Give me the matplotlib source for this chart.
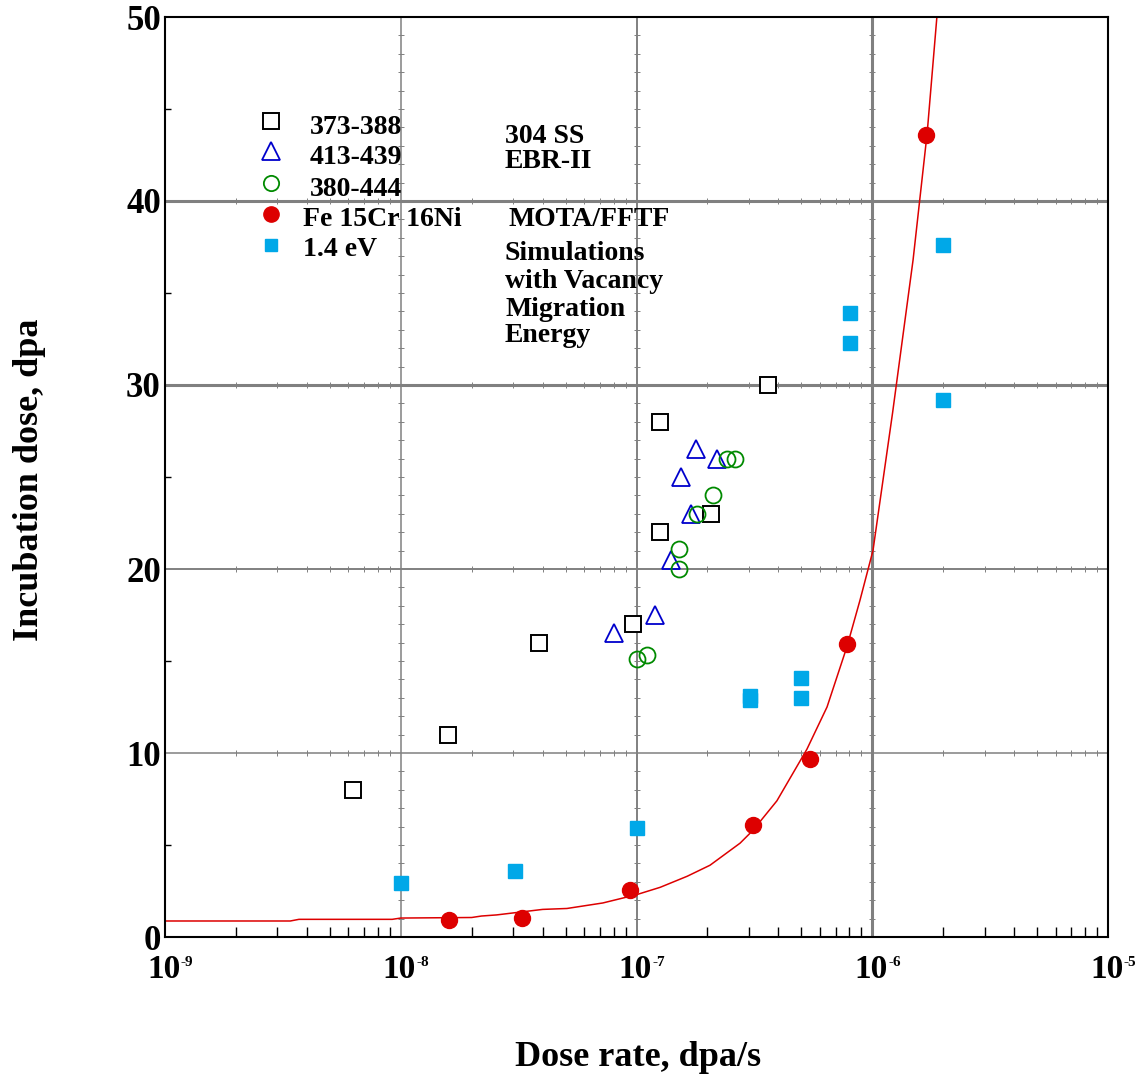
import matplotlib
matplotlib.use("Agg")
import matplotlib.pyplot as plt
from matplotlib.ticker import FixedLocator, NullFormatter

plt.rcParams['font.family'] = ['Liberation Serif', 'DejaVu Serif']
plt.rcParams['font.weight'] = 'bold'

# ---- data ----
sq_x = [6.27e-9, 1.58e-8, 3.86e-8, 9.66e-8, 1.26e-7, 1.26e-7, 2.07e-7, 3.61e-7]
sq_y = [8.0, 11.0, 16.0, 17.0, 22.0, 28.0, 23.0, 30.0]

tri_x = [1.79e-7, 2.19e-7, 1.55e-7, 1.70e-7, 1.40e-7, 1.20e-7, 8.0e-8]
tri_y = [26.5, 26.0, 25.0, 23.0, 20.5, 17.5, 16.5]

circ_x = [2.42e-7, 2.62e-7, 2.11e-7, 1.81e-7, 1.51e-7, 1.51e-7, 1.11e-7, 1.0e-7]
circ_y = [26.0, 26.0, 24.0, 23.0, 21.1, 20.0, 15.3, 15.1]

fe_x = [1.6e-8, 3.27e-8, 9.4e-8, 3.12e-7, 5.45e-7, 7.82e-7, 1.69e-6]
fe_y = [0.92, 1.03, 2.55, 6.1, 9.7, 15.9, 43.6]

sim_x = [1.0e-8, 3.05e-8, 1.0e-7, 3.03e-7, 3.03e-7, 4.99e-7, 4.99e-7, 8.05e-7, 8.05e-7, 2.0e-6, 2.0e-6]
sim_y = [2.93, 3.6, 5.9, 13.1, 12.9, 14.1, 13.0, 33.9, 32.3, 37.6, 29.2]

fit_x = [1e-9, 3.4e-9, 3.7e-9, 9.2e-9, 1.0e-8, 2.0e-8, 2.2e-8, 2.55e-8, 4.0e-8, 5.07e-8,
         7.2e-8, 1.0e-7, 1.26e-7, 1.64e-7, 2.05e-7, 2.75e-7, 3.12e-7, 3.94e-7, 5.28e-7,
         6.43e-7, 7.82e-7, 8.87e-7, 1.007e-6, 1.22e-6, 1.49e-6, 1.71e-6, 1.88e-6, 1.95e-6]
fit_y = [0.87, 0.87, 0.96, 0.96, 1.03, 1.06, 1.14, 1.2, 1.5, 1.55,
         1.85, 2.3, 2.7, 3.3, 3.9, 5.1, 5.8, 7.4, 10.2,
         12.5, 15.8, 18.3, 21.0, 28.5, 36.8, 43.7, 50.0, 53.0]

x_ticks = [1e-9, 1e-8, 1e-7, 1e-6, 1e-5]
x_tick_exps = ['-9', '-8', '-7', '-6', '-5']
y_ticks = [0, 10, 20, 30, 40, 50]
y_tick_labels = ['0', '10', '20', '30', '40', '50']

legend_labels = ['373-388', '413-439', '380-444', 'Fe 15Cr 16Ni', '1.4 eV']
note_lines = ['304 SS', 'EBR-II', 'MOTA/FFTF', 'Simulations', 'with Vacancy', 'Migration', 'Energy']

# ---- figure ----
W, H = 1135, 1076
fig = plt.figure(figsize=(W / 100, H / 100), dpi=100)
ax = fig.add_axes([165 / W, 1 - 937 / H, (1108 - 165) / W, (937 - 17) / H])
ax.set_xscale('log')
ax.set_xlim(1e-9, 1e-5)
ax.set_ylim(0, 50)

grey = '#808080'
for xv, lw in zip([1e-8, 1e-7, 1e-6], [1.1, 1.4, 2.2]):
    ax.axvline(xv, color=grey, lw=lw, zorder=1)
for yv, lw in zip([10, 20, 30, 40], [1.1, 1.4, 2.2, 2.2]):
    ax.axhline(yv, color=grey, lw=lw, zorder=1)

# small tick marks along the grid lines
iy = [v for v in range(1, 50) if v % 10]
for xv in [1e-8, 1e-7, 1e-6]:
    ax.plot([xv] * len(iy), iy, linestyle='none', marker='_', ms=4.5, mew=0.7, color=grey, zorder=1)
mx = [m * 10.0 ** e for e in range(-9, -5) for m in range(2, 10)]
for yv in [10, 20, 30, 40]:
    ax.plot(mx, [yv] * len(mx), linestyle='none', marker='|', ms=4.5, mew=0.7, color=grey, zorder=1)

red = '#dd0000'
ax.plot(fit_x, fit_y, color=red, lw=1.1, zorder=2)

ax.plot(sq_x, sq_y, 's', ms=11.5, mfc='white', mec='black', mew=1.4, zorder=3)
ax.plot(tri_x, tri_y, '^', ms=13.5, mfc='none', mec='#0000cc', mew=1.3, zorder=3)
ax.plot(circ_x, circ_y, 'o', ms=11.5, mfc='none', mec='#008a00', mew=1.3, zorder=3)
ax.plot(fe_x, fe_y, 'o', ms=11.5, mfc=red, mec=red, zorder=4)
ax.plot(sim_x, sim_y, 's', ms=9.5, mfc='#00a8e8', mec='#00a8e8', zorder=4)

# ticks
ax.xaxis.set_major_locator(FixedLocator(x_ticks))
ax.xaxis.set_major_formatter(NullFormatter())
ax.xaxis.set_minor_locator(FixedLocator(mx))
ax.xaxis.set_minor_formatter(NullFormatter())
ax.yaxis.set_major_locator(FixedLocator(y_ticks))
ax.set_yticklabels(y_tick_labels, fontsize=25, fontweight='bold')
ax.yaxis.set_minor_locator(FixedLocator([5, 15, 25, 35, 45]))
ax.tick_params(which='both', direction='in', top=False, right=False)
ax.tick_params(which='major', length=0)
ax.tick_params(axis='y', which='major', pad=3)
ax.tick_params(axis='x', which='minor', length=7, width=1)
ax.tick_params(axis='y', which='minor', length=4, width=1)
for s in ax.spines.values():
    s.set_linewidth(1.5)
    s.set_color('black')

# x tick labels: "10" with a small superscript exponent
for xt, ex in zip(x_ticks, x_tick_exps):
    ax.annotate('10', xy=(xt, 0), xycoords=('data', 'axes fraction'), xytext=(-1, -12),
                textcoords='offset points', ha='center', va='top', fontsize=24,
                fontweight='bold', annotation_clip=False)
    ax.annotate(ex, xy=(xt, 0), xycoords=('data', 'axes fraction'), xytext=(11.5, -13.5),
                textcoords='offset points', ha='left', va='top', fontsize=11,
                fontweight='bold', annotation_clip=False)

def px(x, y):
    return (x / W, 1 - y / H)

fig.text(*px(638, 1057), 'Dose rate, dpa/s', fontsize=26, fontweight='bold', ha='center', va='center')
fig.text(*px(30, 480), 'Incubation dose, dpa', fontsize=26, fontweight='bold', ha='center',
         va='center', rotation=90)

# legend (markers and labels)
marker_x = 271
rows = [121, 151, 183, 214, 245]
text_rows = [128, 157, 189, 219, 250]
text_x = [310, 310, 310, 303, 303]
mk = [dict(marker='s', ms=11, mfc='white', mec='black', mew=1.4),
      dict(marker='^', ms=13, mfc='none', mec='#0000cc', mew=1.3),
      dict(marker='o', ms=11, mfc='none', mec='#008a00', mew=1.3),
      dict(marker='o', ms=11, mfc=red, mec=red),
      dict(marker='s', ms=9, mfc='#00a8e8', mec='#00a8e8')]
for r, m, lab, tx, ty in zip(rows, mk, legend_labels, text_x, text_rows):
    x0, y0 = px(marker_x, r)
    fig.add_artist(plt.Line2D([x0], [y0], linestyle='none', transform=fig.transFigure, **m))
    fig.text(*px(tx, ty), lab, fontsize=20, fontweight='bold', va='center', ha='left')

note_x = [505, 505, 508, 505, 505, 505, 505]
note_y = [137, 162, 219, 254, 282, 309, 336]
for t, x, y in zip(note_lines, note_x, note_y):
    fig.text(*px(x, y), t, fontsize=20, fontweight='bold', va='center', ha='left')

fig.savefig('out.png', dpi=100)
